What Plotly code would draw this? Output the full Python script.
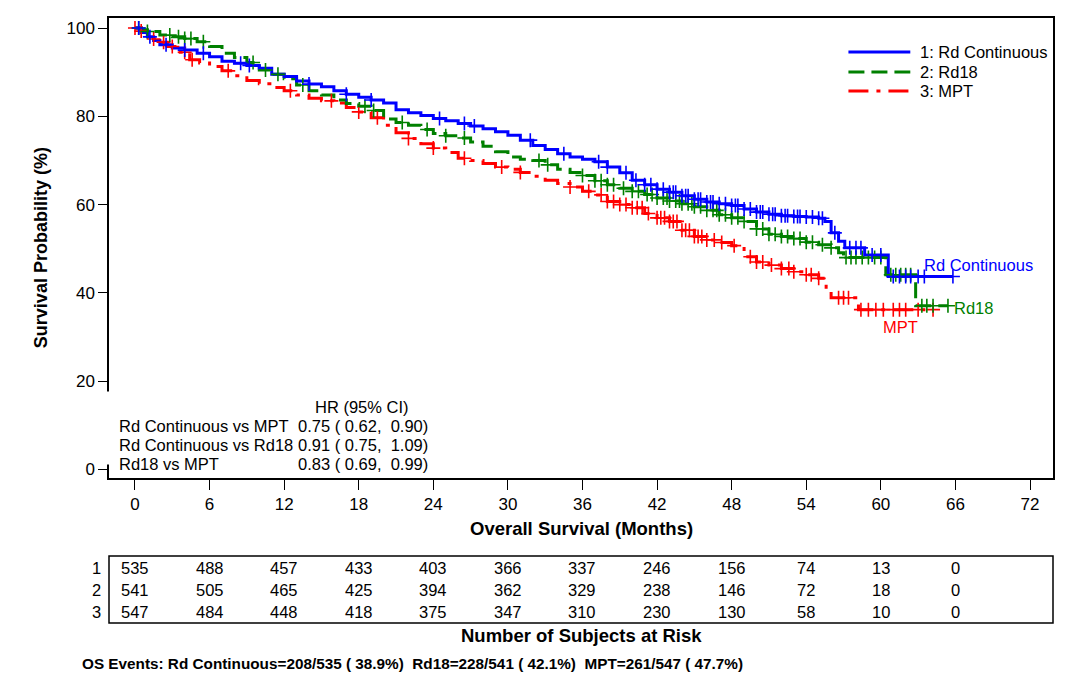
import numpy as np
import plotly.graph_objects as go

# ---------------- data ----------------
arm_names = ["Rd Continuous", "Rd18", "MPT"]

rdc_t = [0, 0.5, 1, 1.5, 2, 3, 4, 5, 6, 7, 8, 9, 10, 11, 12, 13, 14, 15, 16, 17, 18, 19, 20, 21, 22, 23, 24,
         25, 26, 27, 28, 29, 30, 31, 32, 33, 34, 35, 36, 37, 38, 39, 40, 41, 42, 43, 44, 45, 46, 47, 48, 49,
         50, 51, 52, 53, 54, 55, 55.5, 56, 56.6, 57.1, 58.7, 60.6, 65.8]
rdc_s = [100, 99, 98, 97.2, 96.2, 95.5, 95, 94.3, 93.5, 92.5, 92, 91.5, 90.9, 89.5, 89, 88, 87.3, 86.7, 85.8,
         85, 84.3, 83.7, 83, 81.5, 80.8, 80.2, 79.5, 79, 78.4, 77.8, 77.2, 76.5, 75.7, 74.6, 73.4, 72.5, 71.5,
         70.8, 70.3, 69.7, 68.5, 67.2, 65.5, 64.5, 63.5, 62.8, 62, 61.2, 60.6, 60.2, 59.8, 59, 58.3, 57.8,
         57.5, 57.3, 57.2, 56.9, 56.2, 53.6, 51.7, 50.2, 48.6, 43.7, 43.7]
rdc_cens = [0.3, 1.2, 2.5, 4, 5.5, 8.5, 9.2, 14, 17, 19, 24.5, 26.5, 27.3, 31.8, 34.5, 37.3, 38, 39.5, 40.3, 41,
            41.5, 42, 42.5, 43, 43.3, 43.5, 44, 44.3, 44.5, 45, 45.3, 45.5, 46, 46.3, 46.5, 47, 47.5, 48, 48.3,
            48.5, 49, 49.5, 50, 50.3, 50.5, 51, 51.3, 51.5, 52, 52.3, 52.5, 53, 53.3, 53.5, 54, 54.5, 55, 55.3,
            56.3, 57.5, 58, 58.4, 59.3, 60, 61, 61.5, 62, 62.4, 63, 63.5, 65.8]

rd18_t = [0, 0.5, 1, 2, 3, 4, 5, 6, 7, 8, 9, 10, 11, 12, 13, 14, 15, 16, 17, 18, 19, 20, 21, 22, 23, 24, 25,
          26, 27, 28, 29, 30, 31, 32, 33, 34, 35, 36, 37, 38, 39, 40, 41, 42, 43, 44, 45, 46, 47, 48, 49, 50,
          51, 52, 53, 54, 55, 56, 56.6, 57, 60.4, 62.8, 65.4]
rd18_s = [100, 99.6, 99.2, 98.4, 98, 97.6, 96.9, 95.8, 94.3, 93.3, 92.2, 90.5, 89.5, 88.5, 87.1, 85.8, 84.8,
          83.7, 82.9, 82.3, 81.3, 79.4, 78.6, 78, 77, 76.1, 75.6, 75.1, 74.2, 73.2, 72, 70.8, 70.3, 70, 69,
          68, 67.3, 66.6, 65.4, 64.5, 63.7, 63, 62.3, 61.5, 60.8, 60.2, 59.5, 58.7, 57.7, 57, 56.2, 54.5,
          53.3, 52.8, 52.3, 51.5, 50.9, 50.2, 49.1, 48, 44.1, 37.1, 37.1]
rd18_cens = [0.3, 1, 2.8, 3.5, 4, 4.5, 5.5, 9.5, 10.5, 11.5, 13.5, 18.5, 19.2, 21.5, 23.5, 25, 26.5, 32.5,
             33.2, 36, 37, 37.5, 38, 38.5, 39.3, 40, 40.5, 41.2, 41.6, 42, 42.5, 42.8, 43, 43.5, 43.8, 44, 44.5,
             44.8, 45, 45.5, 46, 46.5, 46.8, 47, 47.5, 48, 48.5, 49, 50, 50.5, 51, 51.5, 52, 52.5, 53, 53.5, 54,
             54.5, 55.3, 56, 57.2, 57.6, 58, 58.5, 59, 59.5, 60, 60.8, 61.2, 61.6, 62, 62.4, 63.3, 63.7, 64.2,
             65.4]

mpt_t = [0, 0.5, 1, 1.5, 2, 2.6, 3.5, 4.4, 5.2, 6, 7, 8, 9, 10, 11, 12, 13, 14, 15, 16, 17, 18, 19, 20, 21,
         22, 23, 24, 25, 26, 27, 28, 29, 30, 31, 32, 33, 34, 35, 36, 37, 38, 39, 40, 41, 42, 43, 44, 45, 46,
         47, 48, 49, 50, 51, 52, 53, 54, 55, 55.6, 56, 58.2, 64.2]
mpt_s = [100, 99.3, 98.6, 97.5, 96.8, 95.8, 94.5, 92.8, 92.1, 91.3, 90.3, 89.2, 88.1, 87.4, 86.5, 85.8, 84.8,
         84.1, 83.5, 83, 82, 81, 79.7, 78, 76.3, 75, 73.8, 72.8, 71.8, 70.5, 70, 69.3, 68.5, 68, 67.3, 66.4,
         65.5, 64.8, 64, 63, 62.2, 60.7, 60, 59.3, 58, 57, 56.2, 54.2, 52.8, 52, 51.4, 50.7, 48.2, 47, 46.3,
         45.5, 44.8, 44.1, 43.3, 40.7, 38.9, 36.2, 36.2]
mpt_cens = [0, 0.5, 1.5, 2.3, 3, 4, 4.6, 7.5, 12.5, 15.8, 18, 19.5, 22, 24, 26.5, 29.5, 31, 35, 36.5, 37.5,
            38, 38.5, 39, 39.5, 40, 40.4, 40.8, 41.3, 42, 42.3, 42.6, 43, 43.3, 43.6, 44, 44.3, 44.6, 45, 45.3,
            45.6, 46, 46.6, 47.2, 48.2, 49.5, 50, 50.5, 51.2, 52, 52.6, 53, 54, 54.4, 55, 56.6, 57, 57.4, 58.4,
            59, 59.6, 60.2, 61, 61.5, 62, 63, 64.2]

risk_times = [0, 6, 12, 18, 24, 30, 36, 42, 48, 54, 60, 66]
risk_rdc = [535, 488, 457, 433, 403, 366, 337, 246, 156, 74, 13, 0]
risk_rd18 = [541, 505, 465, 425, 394, 362, 329, 238, 146, 72, 18, 0]
risk_mpt = [547, 484, 448, 418, 375, 347, 310, 230, 130, 58, 10, 0]

x_ticks = [0, 6, 12, 18, 24, 30, 36, 42, 48, 54, 60, 66, 72]
y_ticks = [0, 20, 40, 60, 80, 100]

hr_rows = ["Rd Continuous vs MPT", "Rd Continuous vs Rd18", "Rd18 vs MPT"]
hr_vals = ["0.75 ( 0.62,  0.90)", "0.91 ( 0.75,  1.09)", "0.83 ( 0.69,  0.99)"]

events_text = "OS Events: Rd Continuous=208/535 ( 38.9%)  Rd18=228/541 ( 42.1%)  MPT=261/547 ( 47.7%)"

# ---------------- styling ----------------
FONT = "Arial, Liberation Sans, sans-serif"
colors = ["#0000FF", "#008000", "#FF0000"]
dashes = ["solid", "16px,7px", "20px,8px,4px,8px"]

OFF = 8  # page body margin
W, H = 1069 - 2 * OFF, 681 - 2 * OFF
# page-pixel positions of the plotting frame
P_LEFT, P_RIGHT, P_TOP, P_BOT = 109, 1055, 18, 478
L, T = P_LEFT - OFF, P_TOP - OFF
R = W - (P_RIGHT - OFF)
B = H - (P_BOT - OFF)
PW, PH = P_RIGHT - P_LEFT, P_BOT - P_TOP


def px_x(p):
    return (p - P_LEFT) / PW


def px_y(p):
    return (P_BOT - p) / PH


def nb(s):
    return s.replace(" ", "\u00a0")


fig = go.Figure()

series = [(rdc_t, rdc_s, rdc_cens), (rd18_t, rd18_s, rd18_cens), (mpt_t, mpt_s, mpt_cens)]
order = [2, 1, 0]
for i in order:
    t, s, c = series[i]
    fig.add_trace(go.Scatter(x=t, y=s, mode="lines", line=dict(color=colors[i], width=3, dash=dashes[i], shape="hv"),
                             showlegend=False, hoverinfo="skip"))
for i in order:
    t, s, c = series[i]
    ta = np.array(t)
    sa = np.array(s)
    idx = np.searchsorted(ta, np.array(c), side="right") - 1
    idx = np.clip(idx, 0, len(sa) - 1)
    fig.add_trace(go.Scatter(x=c, y=sa[idx], mode="markers",
                             marker=dict(symbol="cross-thin", size=10, line=dict(color=colors[i], width=1.6)),
                             showlegend=False, hoverinfo="skip"))

annotations = []
shapes = []
TXT = 16.5

# axis titles
annotations.append(dict(text="<b>Overall Survival (Months)</b>", xref="paper", yref="paper", x=0.5, y=px_y(528),
                        xanchor="center", yanchor="middle", showarrow=False, font=dict(size=18.5, family=FONT, color="black")))
annotations.append(dict(text="<b>Survival Probability (%)</b>", xref="paper", yref="paper", x=px_x(41), y=0.5,
                        xanchor="center", yanchor="middle", textangle=-90, showarrow=False,
                        font=dict(size=18, family=FONT, color="black")))

# legend (custom)
leg_y = [52, 72, 91]
for i in range(3):
    shapes.append(dict(type="line", xref="paper", yref="paper", x0=px_x(850), x1=px_x(912), y0=px_y(leg_y[i]),
                       y1=px_y(leg_y[i]), line=dict(color=colors[i], width=3, dash=dashes[i])))
    annotations.append(dict(text=f"{i + 1}: {arm_names[i]}", xref="paper", yref="paper", x=px_x(920), y=px_y(leg_y[i]),
                            xanchor="left", yanchor="middle", showarrow=False,
                            font=dict(size=16.5, family=FONT, color="black")))

# curve end labels
annotations.append(dict(text="Rd Continuous", xref="x", yref="y", x=63.3, y=46.3, xanchor="left", yanchor="middle",
                        showarrow=False, font=dict(size=TXT, family=FONT, color=colors[0])))
annotations.append(dict(text="Rd18", xref="x", yref="y", x=65.7, y=36.6, xanchor="left", yanchor="middle",
                        showarrow=False, font=dict(size=TXT, family=FONT, color=colors[1])))
annotations.append(dict(text="MPT", xref="x", yref="y", x=61.6, y=32.3, xanchor="center", yanchor="middle",
                        showarrow=False, font=dict(size=TXT, family=FONT, color=colors[2])))

# HR table
annotations.append(dict(text=" ", xref="paper", yref="paper", x=px_x(109), y=px_y(428), width=10, height=72,
                        bgcolor="white", borderpad=0, showarrow=False, xanchor="center", yanchor="middle"))
annotations.append(dict(text=nb("HR (95% CI)"), xref="paper", yref="paper", x=px_x(313), y=px_y(407),
                        xanchor="left", yanchor="middle", showarrow=False, font=dict(size=TXT, family=FONT, color="black")))
hr_y = [426, 445, 464]
for r, v, yy in zip(hr_rows, hr_vals, hr_y):
    annotations.append(dict(text=nb(r), xref="paper", yref="paper", x=px_x(117), y=px_y(yy), xanchor="left",
                            yanchor="middle", showarrow=False, font=dict(size=TXT, family=FONT, color="black")))
    annotations.append(dict(text=nb(v), xref="paper", yref="paper", x=px_x(296), y=px_y(yy), xanchor="left",
                            yanchor="middle", showarrow=False, font=dict(size=TXT, family=FONT, color="black")))

# at-risk table
shapes.append(dict(type="rect", xref="paper", yref="paper", x0=0, x1=1, y0=px_y(623), y1=px_y(556),
                   line=dict(color="black", width=1.5), fillcolor="rgba(0,0,0,0)"))
row_y = [568, 590, 612]
for k, vals in enumerate([risk_rdc, risk_rd18, risk_mpt]):
    annotations.append(dict(text=str(k + 1), xref="paper", yref="paper", x=px_x(103), y=px_y(row_y[k]),
                            xanchor="right", yanchor="middle", showarrow=False,
                            font=dict(size=TXT, family=FONT, color="black")))
    for tt, v in zip(risk_times, vals):
        annotations.append(dict(text=str(v), xref="x", yref="paper", x=tt, y=px_y(row_y[k]), xanchor="center",
                                yanchor="middle", showarrow=False, font=dict(size=TXT, family=FONT, color="black")))
annotations.append(dict(text="<b>Number of Subjects at Risk</b>", xref="paper", yref="paper", x=0.5, y=px_y(635),
                        xanchor="center", yanchor="middle", showarrow=False, font=dict(size=18.5, family=FONT, color="black")))
annotations.append(dict(text="<b>" + nb(events_text) + "</b>", xref="paper", yref="paper", x=px_x(80), y=px_y(663),
                        xanchor="left", yanchor="middle", showarrow=False, font=dict(size=15.3, family=FONT, color="black")))

fig.update_layout(
    width=W, height=H,
    margin=dict(l=L, r=R, t=T, b=B, pad=0),
    paper_bgcolor="white", plot_bgcolor="white",
    font=dict(family=FONT, color="black"),
    showlegend=False,
    annotations=annotations,
    shapes=shapes,
    xaxis=dict(range=[-2.09, 73.85], tickmode="array", tickvals=x_ticks, ticks="outside", ticklen=10, tickwidth=1,
               tickcolor="black", showline=True, linecolor="black", linewidth=1.5, mirror=True, showgrid=False,
               zeroline=False, tickfont=dict(size=17, family=FONT, color="black")),
    yaxis=dict(range=[-1.93, 102.27], tickmode="array", tickvals=y_ticks, ticks="outside", ticklen=9, tickwidth=1,
               tickcolor="black", showline=True, linecolor="black", linewidth=1.5, mirror=True, showgrid=False,
               zeroline=False, tickfont=dict(size=17, family=FONT, color="black")),
)

fig.write_html("out.html")
